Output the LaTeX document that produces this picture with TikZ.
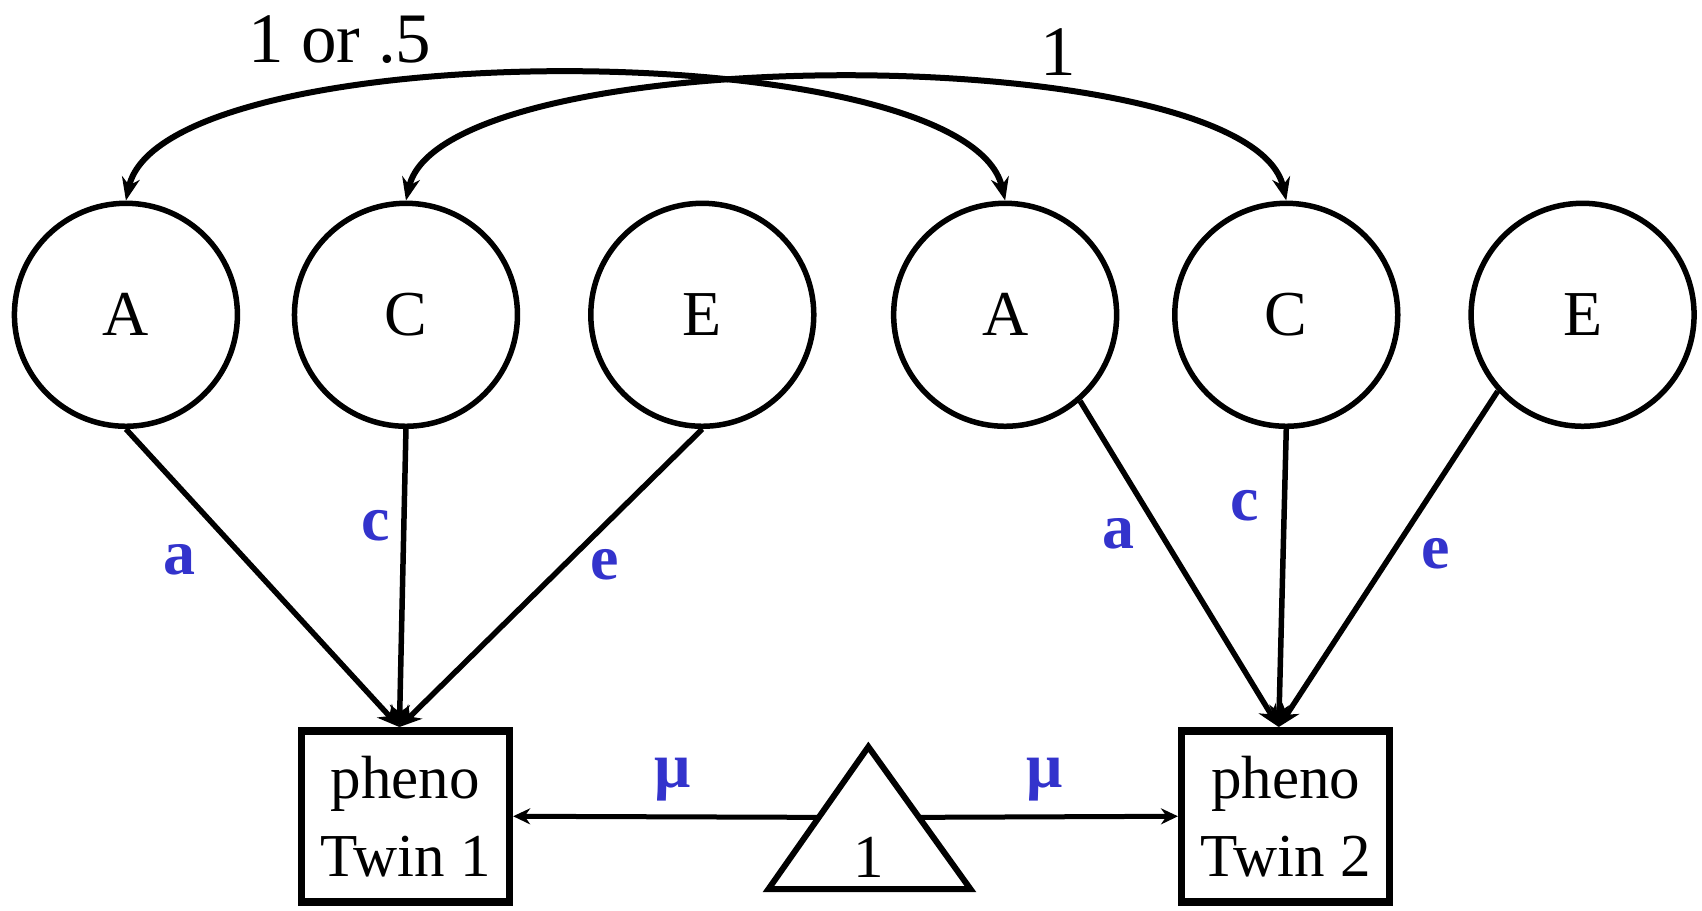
\documentclass[tikz,border=0pt]{standalone}
\usepackage{fontspec}
\setmainfont{Liberation Serif}
\usetikzlibrary{arrows.meta}
\definecolor{lblue}{RGB}{51,51,204}
\begin{document}
\begin{tikzpicture}[x=1.0855pt,y=-1.0855pt,
  latent/.style={circle,draw,line width=5.5pt,minimum size=223pt,inner sep=0pt,font=\fontsize{64}{64}\selectfont},
  manifest/.style={rectangle,draw,line width=7.5pt,minimum width=208pt,minimum height=171pt,inner sep=0pt,align=center,font=\fontsize{61}{78}\selectfont},
  lnk/.style={line width=5.5pt,-{Stealth[length=22pt,width=20pt]}},
  meanarr/.style={line width=5pt,-{Stealth[length=17pt,width=16pt]}},
  cov/.style={line width=6pt,{Stealth[length=23pt,width=18pt]}-{Stealth[length=23pt,width=18pt]}},
  lbl/.style={text=lblue,font=\fontsize{64}{64}\selectfont\bfseries},
  num/.style={font=\fontsize{71}{71}\selectfont}]
\useasboundingbox (0,0) rectangle (1568,839);
% latent variables
\node[latent] (A1) at (116,290) {A};
\node[latent] (C1) at (374,290) {C};
\node[latent] (E1) at (647,290) {E};
\node[latent] (A2) at (926,290) {A};
\node[latent] (C2) at (1185,290) {C};
\node[latent] (E2) at (1458,290) {E};
% observed
\node[manifest] (P1) at (373.5,752) {pheno\\Twin 1};
\node[manifest] (P2) at (1184.5,752) {pheno\\Twin 2};
% triangle (constant)
\draw[line width=6pt,line join=miter] (800,688) -- (894,819) -- (708,819) -- cycle;
\node[font=\fontsize{61}{61}\selectfont] (one) at (800,790) {1};
\coordinate (tL) at (754,753);
\coordinate (tR) at (846,753);
\coordinate (P1in) at ([xshift=-6pt]P1.north);
\coordinate (P2in) at ([xshift=-7pt]P2.north);
% covariances
\draw[cov] (A1.north) .. controls (150,30) and (890,30) .. (A2.north);
\draw[cov] (C1.north) .. controls (408,35) and (1151,35) .. (C2.north);
\node[num] (r1) at (313,36) {1 or .5};
\node[num] (r2) at (975,48) {1};
% paths
\draw[lnk] (A1.south) -- (P1in);
\draw[lnk] (C1.south) -- (P1in);
\draw[lnk] (E1.south) -- (P1in);
\draw[lnk] (A2.-49) -- (P2in);
\draw[lnk] (C2.south) -- (P2in);
\draw[lnk] (E2.-138) -- (P2in);
\draw[meanarr] (tL) -- (P1.east);
\draw[meanarr] (tR) -- (P2.west);
% labels
\node[lbl] (la1) at (165,516) {a};
\node[lbl] (lc1) at (346,484) {c};
\node[lbl] (le1) at (557,520) {e};
\node[lbl] (la2) at (1030,492) {a};
\node[lbl] (lc2) at (1147,466) {c};
\node[lbl] (le2) at (1323,510) {e};
\node[lbl] (m1) at (620,718) {μ};
\node[lbl] (m2) at (962,718) {μ};
\end{tikzpicture}
\end{document}
